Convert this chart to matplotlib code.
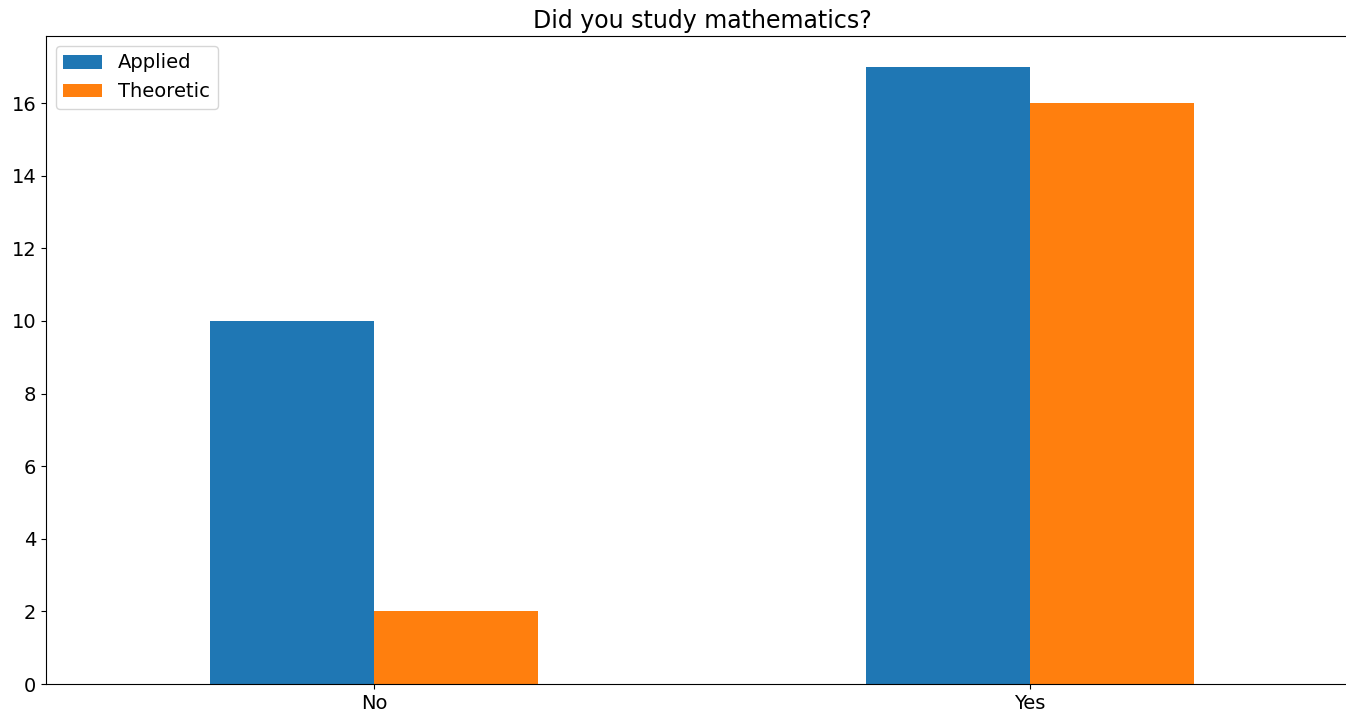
import matplotlib
matplotlib.use("Agg")
import matplotlib.pyplot as plt
import numpy as np

categories = ["No", "Yes"]
applied = [10, 17]
theoretic = [2, 16]
series_names = ["Applied", "Theoretic"]

fs = 14
fig = plt.figure(figsize=(13.46, 7.11), dpi=100)
W, H = 1346, 711
ax = fig.add_axes([46 / W, 27 / H, (1358 - 46) / W, (684 - 36) / H])

x = np.arange(len(categories))
w = 0.25
ax.bar(x - w / 2, applied, w, color="#1f77b4", label=series_names[0])
ax.bar(x + w / 2, theoretic, w, color="#ff7f0e", label=series_names[1])
ax.set_xlim(-0.5, 1.5)
ax.set_ylim(0, 17 * 1.05)
ax.set_xticks(x)
ax.set_xticklabels(categories, fontsize=fs)
ax.set_yticks(range(0, 17, 2))
ax.tick_params(axis="y", labelsize=fs)
ax.set_title("Did you study mathematics?", fontsize=17)
ax.legend(loc="upper left", fontsize=fs)
fig.savefig("out.png", dpi=100)
